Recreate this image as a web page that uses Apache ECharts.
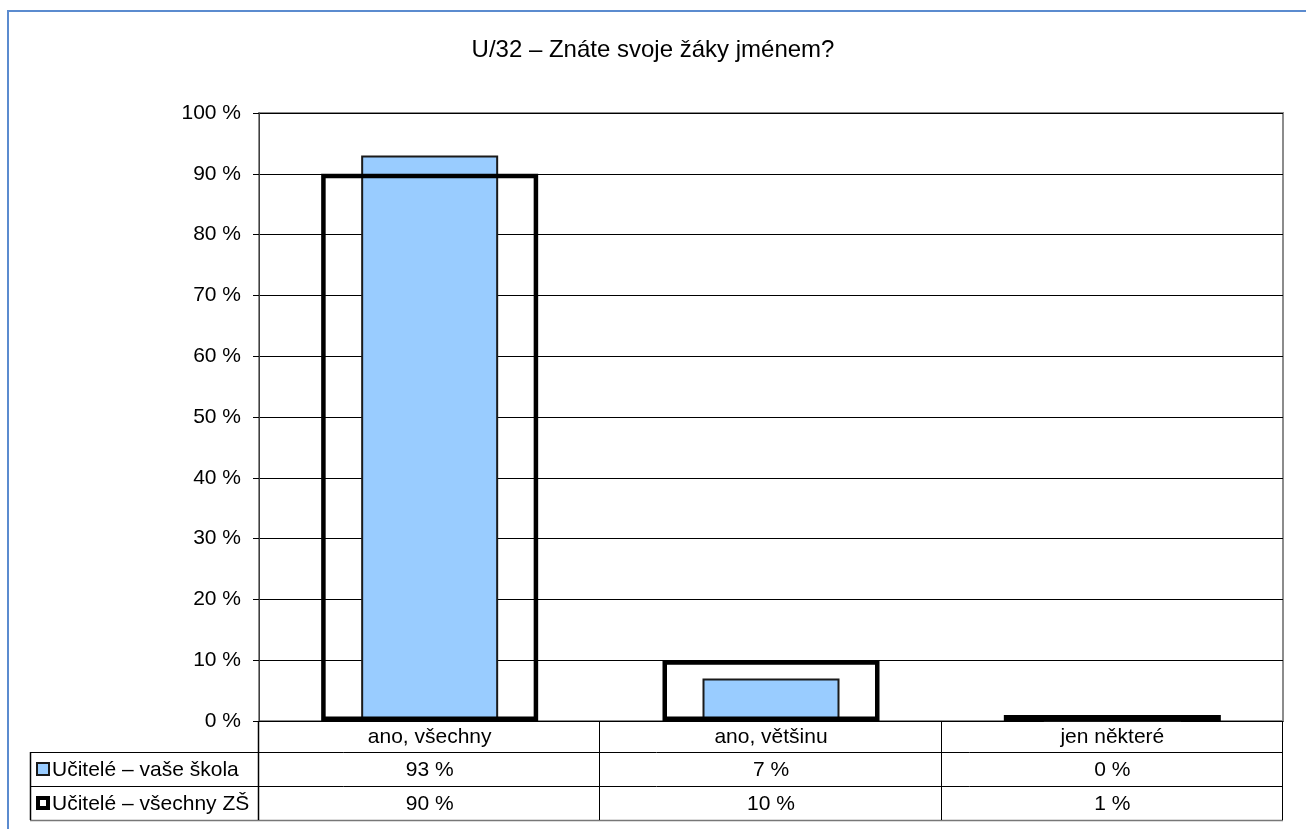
<!DOCTYPE html>
<html>
<head>
<meta charset="utf-8">
<script src="https://cdn.jsdelivr.net/npm/echarts@6/dist/echarts.min.js"></script>
<style>
html,body{margin:0;padding:0;background:#fff;}
#c{width:1306px;height:829px;}
</style>
</head>
<body>
<div id="c"></div>
<script>
const titleText = 'U/32 – Znáte svoje žáky jménem?';
const categories = ['ano, všechny', 'ano, většinu', 'jen některé'];
const seriesNames = ['Učitelé – vaše škola', 'Učitelé – všechny ZŠ'];
const schoolValues = [93, 7, 0];
const allSchoolsValues = [90, 10, 1];

const FONT = '"Liberation Sans", Arial, sans-serif';
const FS = 21;
const GRID = {left: 259, right: 23, top: 113, bottom: 108};

const chart = echarts.init(document.getElementById('c'), null, {renderer: 'canvas'});

const option = {
  animation: false,
  backgroundColor: '#ffffff',
  title: {
    text: titleText,
    left: 'center',
    top: 33,
    textStyle: {fontFamily: FONT, fontSize: 24, fontWeight: 'normal', color: '#000'}
  },
  grid: {
    left: GRID.left, right: GRID.right, top: GRID.top, bottom: GRID.bottom,
    show: true, borderColor: '#8c8c8c', borderWidth: 2, backgroundColor: 'transparent'
  },
  xAxis: [
    {
      type: 'category', data: categories, gridIndex: 0,
      axisLine: {show: true, lineStyle: {color: '#000', width: 1}},
      axisTick: {show: false},
      axisLabel: {fontFamily: FONT, fontSize: FS, color: '#000', margin: 6}
    },
    {
      type: 'category', data: categories, gridIndex: 0, show: false
    }
  ],
  yAxis: {
    type: 'value', min: 0, max: 100, interval: 10,
    axisLine: {show: true, lineStyle: {color: '#404040', width: 1}},
    axisTick: {show: true, length: 6, lineStyle: {color: '#000'}},
    axisLabel: {fontFamily: FONT, fontSize: FS, color: '#000', margin: 18, formatter: '{value} %'},
    splitLine: {show: true, lineStyle: {color: '#000', width: 1}}
  },
  series: [
    {
      name: seriesNames[0], type: 'bar', xAxisIndex: 0, data: schoolValues,
      barWidth: 137,
      itemStyle: {color: '#99CCFF', borderColor: '#1a1a1a', borderWidth: 2}
    },
    {
      name: seriesNames[1], type: 'bar', xAxisIndex: 1, data: allSchoolsValues,
      barWidth: 217,
      itemStyle: {color: 'transparent', borderColor: '#000', borderWidth: 4.5}
    }
  ]
};
chart.setOption(option);

// Data table below the plot, positioned from the chart's own scales
const y0 = chart.convertToPixel({yAxisIndex: 0}, 0);
const xLeft = GRID.left;
const xRight = 1306 - GRID.right;
const catW = (xRight - xLeft) / categories.length;
const rowTop1 = y0 + 31;
const rowH = 34;
const tableLeft = 30;
const g = [];
const line = (x1, y1, x2, y2, color, w) => g.push({
  type: 'line', silent: true, z: 100,
  shape: {x1, y1, x2, y2},
  style: {stroke: color || '#000', lineWidth: w || 1}
});
// horizontal lines
for (let r = 0; r <= 2; r++) {
  const y = Math.round(rowTop1 + r * rowH) + 0.5;
  line(tableLeft, y, xRight, y, r === 2 ? '#777' : '#000', r === 2 ? 1.5 : 1);
}
// vertical lines
line(tableLeft + 0.5, rowTop1, tableLeft + 0.5, rowTop1 + 2 * rowH, '#000', 1.5);
for (let i = 0; i <= categories.length; i++) {
  const x = Math.round(xLeft + i * catW) - 0.5;
  line(x, y0, x, rowTop1 + 2 * rowH, '#000', i === 0 ? 1.5 : 1);
}
const rows = [schoolValues, allSchoolsValues];
rows.forEach((vals, r) => {
  const cy = rowTop1 + r * rowH + rowH / 2;
  // legend key
  if (r === 0) {
    g.push({type: 'rect', z: 101, shape: {x: 37, y: cy - 6, width: 12, height: 12},
      style: {fill: '#99CCFF', stroke: '#1a1a1a', lineWidth: 2}});
  } else {
    g.push({type: 'rect', z: 101, shape: {x: 38, y: cy - 5, width: 10, height: 10},
      style: {fill: '#fff', stroke: '#000', lineWidth: 4}});
  }
  g.push({type: 'text', z: 101, style: {
    text: seriesNames[r], x: 52, y: cy + 1, textAlign: 'left', textVerticalAlign: 'middle',
    font: FS + 'px ' + FONT, fill: '#000'}});
  vals.forEach((v, i) => {
    const cx = chart.convertToPixel({xAxisIndex: 0}, categories[i]);
    g.push({type: 'text', z: 101, style: {
      text: v + ' %', x: cx, y: cy + 1, textAlign: 'center', textVerticalAlign: 'middle',
      font: FS + 'px ' + FONT, fill: '#000'}});
  });
});
// outer chart border
g.push({type: 'rect', z: 0, silent: true, shape: {x: 8, y: 11, width: 1320, height: 840},
  style: {fill: 'transparent', stroke: '#5B8BCF', lineWidth: 2}});
chart.setOption({graphic: g});
</script>
</body>
</html>
